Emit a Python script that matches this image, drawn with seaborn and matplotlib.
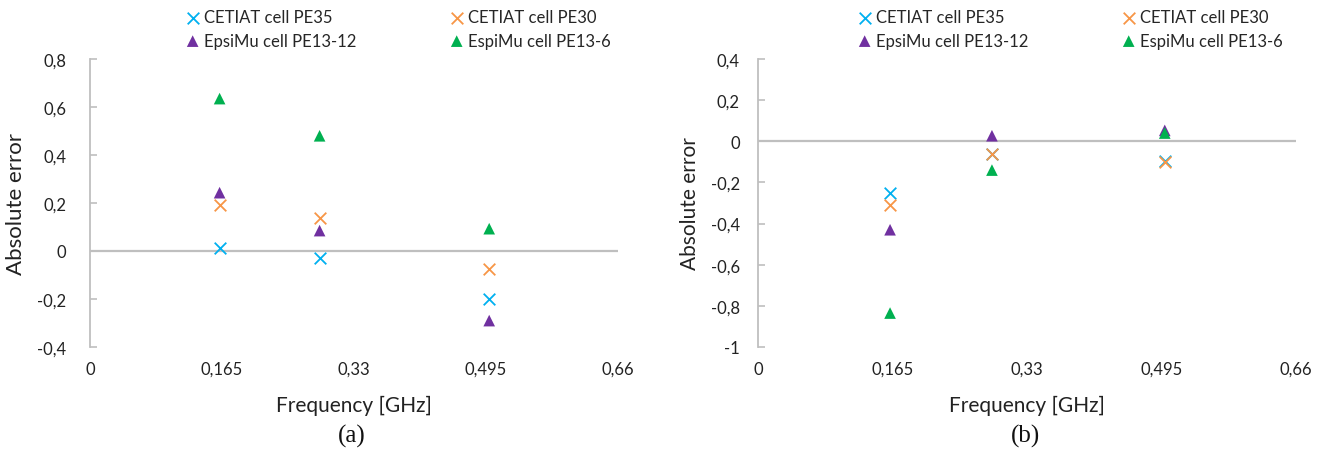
import numpy as np
import pandas as pd
import matplotlib
matplotlib.use("Agg")
import matplotlib.pyplot as plt
from matplotlib.ticker import FuncFormatter
import seaborn as sns

# ---- data ----
freq = [0.162, 0.287, 0.499]
series_names = ["CETIAT cell PE35", "CETIAT cell PE30", "EpsiMu cell PE13-12", "EspiMu cell PE13-6"]
a_pe35 = [0.011, -0.03, -0.20]
a_pe30 = [0.19, 0.137, -0.073]
a_pe13_12 = [0.243, 0.085, -0.29]
a_pe13_6 = [0.635, 0.48, 0.093]
b_pe35 = [-0.25, -0.06, -0.097]
b_pe30 = [-0.31, -0.06, -0.10]
b_pe13_12 = [-0.43, 0.027, 0.053]
b_pe13_6 = [-0.835, -0.14, 0.04]
x_ticks = [0, 0.165, 0.33, 0.495, 0.66]
a_yticks = [-0.4, -0.2, 0, 0.2, 0.4, 0.6, 0.8]
b_yticks = [-1, -0.8, -0.6, -0.4, -0.2, 0, 0.2, 0.4]
panel_labels = ["(a)", "(b)"]

colors = ["#00B0F0", "#F79646", "#7030A0", "#00B050"]
markers = ["x", "x", "^", "^"]

sns.set_theme(style="white")
plt.rcParams["font.family"] = ["Lato", "DejaVu Sans"]

fig = plt.figure(figsize=(13.26, 4.56), dpi=100)
W, H = 1326, 456
ax_a = fig.add_axes([90 / W, 1 - 348 / H, 528 / W, 288 / H])
ax_b = fig.add_axes([758 / W, 1 - 348 / H, 538 / W, 288 / H])

comma = FuncFormatter(lambda v, p: ("{:g}".format(round(v, 3))).replace(".", ","))

panels = [
    (ax_a, [a_pe35, a_pe30, a_pe13_12, a_pe13_6], a_yticks, 90, 528, 17, 16, 86),
    (ax_b, [b_pe35, b_pe30, b_pe13_12, b_pe13_6], b_yticks, 758, 538, 13, 15, 90),
]

for i, (ax, vals, yt, x0, w, ypad, ylab_fs, leg_off) in enumerate(panels):
    for name, v, c, m in zip(series_names, vals, colors, markers):
        df = pd.DataFrame({"Frequency": freq, "Error": v})
        if m == "x":
            sns.scatterplot(data=df, x="Frequency", y="Error", ax=ax, marker="x",
                            color=c, s=70, linewidth=1.3, label=name, zorder=3)
        else:
            sns.scatterplot(data=df, x="Frequency", y="Error", ax=ax, marker="^",
                            color=c, s=70, edgecolor="none", label=name, zorder=3)
    ax.axhline(0, color="#BFBFBF", lw=1.6, zorder=1)
    ax.set_xlim(0, 0.66)
    ax.set_ylim(yt[0], yt[-1])
    ax.set_xticks(x_ticks)
    ax.set_yticks(yt)
    ax.xaxis.set_major_formatter(comma)
    ax.yaxis.set_major_formatter(comma)
    for s in ["top", "right", "bottom"]:
        ax.spines[s].set_visible(False)
    ax.spines["left"].set_color("#BFBFBF")
    ax.spines["left"].set_linewidth(1.3)
    ax.tick_params(axis="x", length=0, pad=10, labelsize=12, labelcolor="#222222")
    ax.tick_params(axis="y", direction="in", length=5, width=1.2, color="#BFBFBF",
                   pad=ypad, labelsize=12, labelcolor="#222222", left=True)
    ax.set_xlabel("Frequency [GHz]", fontsize=15, labelpad=13, color="#222222")
    ax.set_ylabel("Absolute error", fontsize=ylab_fs, labelpad=8, color="#222222")
    ax.grid(False)
    h, l = ax.get_legend_handles_labels()
    ax.get_legend().remove()
    order = [0, 2, 1, 3]
    fig.legend([h[k] for k in order], [l[k] for k in order], loc="upper left",
               bbox_to_anchor=((x0 + leg_off) / W, 1.0),
               ncol=2, frameon=False, fontsize=12, handlelength=0.8,
               handletextpad=0.3, columnspacing=5.6, labelspacing=0.45,
               borderaxespad=0.2, markerscale=1.0)
    fig.text((x0 + w / 2 - 2) / W, 1 - 436 / H,
             panel_labels[i], ha="center", va="center", fontsize=18,
             family="Liberation Serif", color="#111111")

fig.savefig("out.png", dpi=100)
